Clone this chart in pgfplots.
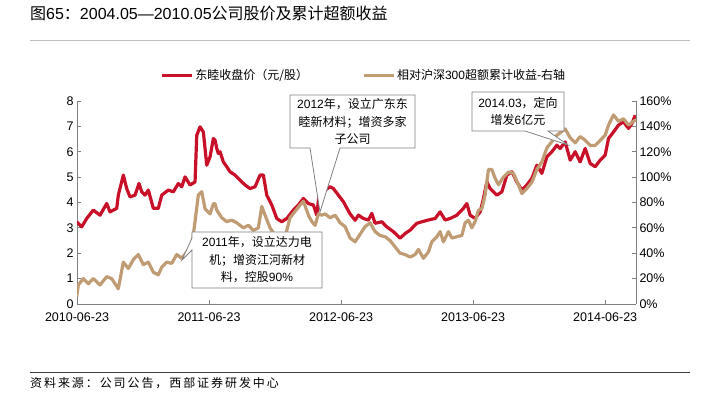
\documentclass[border=0pt]{standalone}
\usepackage{pgfplots}
\pgfplotsset{compat=1.18}
\usepackage{pgfplotstable}
\usepackage{fontspec}
\setmainfont{Liberation Sans}
\newfontfamily\cjk{Noto Sans CJK SC}
\newfontfamily\cjkw{Noto Sans CJK SC}[LetterSpace=16]
\definecolor{cred}{RGB}{200,16,40}
\definecolor{ctan}{RGB}{192,156,116}
\definecolor{axgray}{RGB}{128,128,128}

\pgfplotstableread{
px v
76.7 3.24
81.7 3.04
86.7 3.37
93.3 3.70
100 3.50
106.7 3.96
110 3.63
116.7 3.77
118.3 4.29
123.3 5.08
126.7 4.55
130 4.22
135 4.29
139 4.75
141.7 4.42
145 4.29
148.3 4.49
153.3 3.77
158.3 3.77
161.7 4.29
168.3 4.49
173.3 4.42
178.3 4.75
181.7 4.62
185 5.01
190 4.69
195 4.81
196.7 6.65
200 6.98
203.3 6.78
206.7 5.47
210 5.80
213.3 6.52
215 6.46
216.7 6.13
218.3 5.93
220 6.00
223.3 5.60
226.7 5.41
230 5.21
235 5.08
240 4.88
245 4.69
250 4.55
255 4.62
260 5.08
263.3 5.08
266.7 4.29
271.7 3.90
276.7 3.37
281.7 3.24
286.7 3.37
293.3 3.70
298.3 3.90
303.3 4.16
308.3 3.96
313.3 3.90
316.7 3.50
320 4.69
325 4.49
330 4.62
333.3 4.55
338.3 4.29
343.3 4.03
350 3.55
355 3.30
358.3 3.50
363.3 3.37
368.3 3.31
371.7 3.57
375 3.18
381.7 3.24
386.7 3.04
393.3 2.85
400 2.59
405 2.78
410 2.91
416.7 3.18
421.7 3.24
428.3 3.31
435 3.37
440 3.63
445 3.31
450 3.37
456.7 3.50
463.3 3.77
466.7 3.96
470 3.50
475 3.37
480 3.63
483.3 4.16
486.7 4.81
490 4.55
496.7 4.29
501.7 4.42
506.7 5.08
511.7 5.21
516.7 4.81
521.7 4.49
526.7 4.69
531.7 4.95
536.7 5.47
541.7 5.15
546.7 5.80
551.7 6.00
556.7 6.26
560 6.13
565 6.39
570 5.67
575 6.00
580 5.60
585 6.13
590 5.54
595 5.41
600 5.67
605 5.87
608.3 6.52
613.3 6.78
618.3 7.05
623.3 7.18
628.3 6.92
631.7 7.11
635 7.44
}\redtab

\pgfplotstableread{
px v
76.7 5.8
78.3 15
83.3 20
88.3 16
93.3 20
100 15
106.7 21.5
111.7 20
118.3 12
123.3 33
128.3 28
133.3 35
138.3 39
143.3 31
148.3 33
153.3 25
158.3 23
161.7 29
166.7 33
171.7 32
176.7 39
181.7 36
186.7 41
191.7 45
195 65
198.3 86
201.7 88.5
205 75
210 71
213.3 79
215 79
216.7 74
221.7 68
226.7 65
231.7 66
236.7 64
243.3 60
248.3 62
253.3 58
258.3 60
261.7 77
265 70
270 60
275 54
280 48
285 53
290 68
295 73
300 78
303.3 81
308.3 70
311.7 65
315 62
318.3 71
321.7 70
325 71
330 68
335 70
340 64
345 61
350 52
355 49
360 55
365 61
370 64
375 57
380 54
385 53
390 50
395 45
400 40
405 39
410 37
415 39
418.3 43
423.3 36
428.3 41
431.7 49
436.7 53
440 57
443.3 49
448.3 57
451.7 52
456.7 53
461.7 54
465 64
468.3 66
471.7 60
475 65
478.3 74
481.7 75
485 86
488.3 106
491.7 106
495 99
498.3 94
503.3 100
508.3 104
513.3 103
518.3 94
521.7 87
526.7 91
531.7 96
536.7 106
541.7 112
546.7 123
551.7 128
556.7 133
561.7 136
565 138
570 131
575 127
580 132
585 129
590 125
595 125
600 129
605 133
608.3 141
613.3 149
618.3 144
623.3 146
628.3 141
633.3 144
635.7 145
}\tantab

\begin{document}
\begin{tikzpicture}[x=1pt,y=1pt]
\useasboundingbox (0,0) rectangle (719,398);
% title
\node[anchor=base west, inner sep=0, font=\fontsize{16}{19}\selectfont] at (30,378)
  {{\cjk 图}65{\cjk ：}2004.05—2010.05{\cjk 公司股价及累计超额收益}};
\draw[black!25, line width=0.8pt] (30,358) -- (690,358);
\draw[black!75, line width=0.8pt] (30,26) -- (690,26);
\node[anchor=base west, inner sep=0, font=\fontsize{12}{14}\selectfont] at (30,10)
  {\cjkw 资料来源：公司公告，西部证券研发中心};

\begin{axis}[at={(77pt,94pt)}, anchor=south west, scale only axis,
  width=559pt, height=203pt,
  xmin=0, xmax=50.8, ymin=0, ymax=8,
  axis x line*=bottom, axis y line*=left,
  axis line style={axgray, line width=0.8pt},
  xtick={0,12,24,36,48},
  xticklabels={2010-06-23,2011-06-23,2012-06-23,2013-06-23,2014-06-23},
  xticklabel style={yshift=-5pt},
  ytick={0,1,...,8},
  tick style={axgray, line width=0.8pt}, tick align=inside, major tick length=4pt,
  tick label style={font=\fontsize{12.5}{14}\selectfont},
  /pgf/number format/assume math mode=true,
  legend columns=2,
  legend style={at={(0.513,1.128)}, anchor=center, draw=none, fill=none,
    font=\fontsize{12}{14}\selectfont,
    /tikz/every even column/.append style={column sep=52pt}},
  legend image code/.code={\draw[#1, line width=3pt] (0pt,0pt) -- (30pt,0pt);},
]
\addplot[cred, line width=3.2pt, line join=round] table[x expr=(\thisrow{px}-77)/11, y=v] {\redtab};
\addlegendentry{\cjk 东睦收盘价（元/股）}
\addlegendimage{ctan, line width=3pt}
\addlegendentry{{\cjk 相对沪深}300{\cjk 超额累计收益-右轴}}
\end{axis}

\begin{axis}[at={(77pt,94pt)}, anchor=south west, scale only axis,
  width=559pt, height=203pt,
  xmin=0, xmax=50.8, ymin=0, ymax=160,
  axis y line*=right, axis x line=none,
  axis line style={axgray, line width=0.8pt},
  ytick={0,20,...,160},
  yticklabel={\pgfmathprintnumber{\tick}\%},
  tick style={axgray, line width=0.8pt}, tick align=inside, major tick length=4pt,
  tick label style={font=\fontsize{12.5}{14}\selectfont},
  /pgf/number format/assume math mode=true,
]
\addplot[ctan, line width=3.2pt, line join=round] table[x expr=(\thisrow{px}-77)/11, y=v] {\tantab};
\end{axis}

% callouts
\draw[axgray, fill=white, line width=0.8pt] (192,166) -- (322,166) -- (322,110) -- (192,110) -- (192,148) -- (182,138) -- (192,160) -- cycle;
\node[align=center, font=\fontsize{12}{17.5}\selectfont, inner sep=0] at (257,138)
  {2011{\cjk 年，设立达力电}\\{\cjk 机；增资江河新材}\\{\cjk 料，控股}90\%};

\draw[axgray, fill=white, line width=0.8pt] (290,303) -- (415,303) -- (415,250) -- (340,250) -- (320,186) -- (310,250) -- (290,250) -- cycle;
\node[align=center, font=\fontsize{12}{17.5}\selectfont, inner sep=0] at (352.5,276.5)
  {2012{\cjk 年，设立广东东}\\{\cjk 睦新材料；增资多家}\\{\cjk 子公司}};

\draw[axgray, fill=white, line width=0.8pt] (472,306) -- (564,306) -- (564,267) -- (548,267) -- (568,253) -- (525,267) -- (472,267) -- cycle;
\node[align=center, font=\fontsize{12}{17.5}\selectfont, inner sep=0] at (518,286.5)
  {2014.03{\cjk ，定向}\\{\cjk 增发}6{\cjk 亿元}};
\end{tikzpicture}
\end{document}
